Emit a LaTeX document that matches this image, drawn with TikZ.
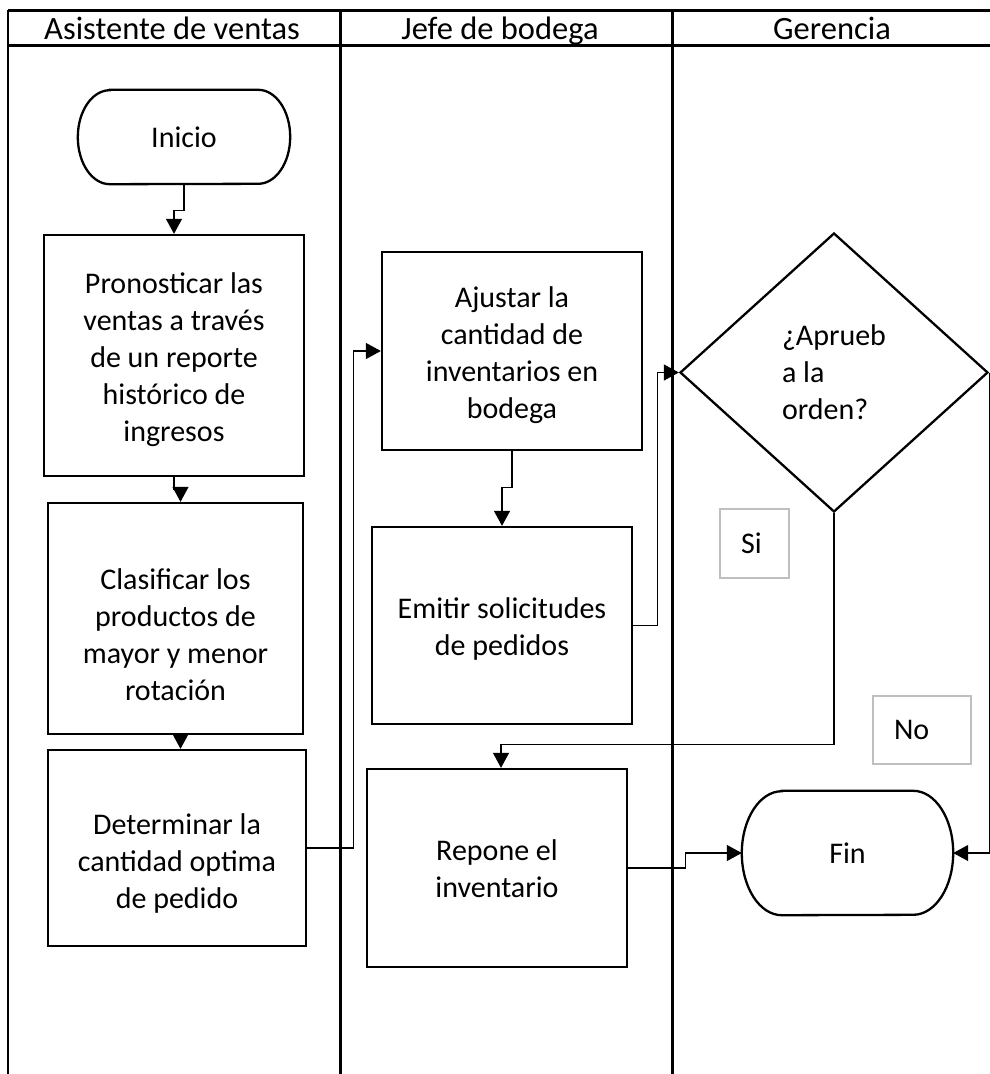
\documentclass[tikz,border=0pt]{standalone}
\usepackage{fontspec}
\setmainfont{Carlito}
\usetikzlibrary{arrows.meta,shapes.geometric,calc}
\newcommand\flowfont{\fontsize{30}{37}\selectfont}
\newcommand\headfont{\fontsize{32.5}{38}\selectfont}
% invisible strut that makes the first text line taller, pushing the block lower
\newcommand\topgap[1]{\rule{0pt}{#1}}
\begin{document}
\begin{tikzpicture}[x=1pt,y=-1pt,
  lane/.style={line width=3pt},
  border/.style={line width=2pt},
  head/.style={font=\headfont, inner sep=0pt, anchor=base},
  stepbox/.style={draw, line width=2.3pt, rectangle, inner sep=0pt, align=center, font=\flowfont},
  terminal/.style={rectangle, inner sep=0pt, font=\flowfont},
  outline/.style={line width=2.3pt},
  decision/.style={draw, diamond, line width=2.3pt, inner sep=0pt, align=left, font=\flowfont,
                   minimum width=308pt, minimum height=279pt},
  conn/.style={line width=1.1pt, -{Triangle[length=15pt,width=16pt]}},
  tag/.style={draw=black!25, line width=2pt, rectangle, inner ysep=0pt, inner xsep=21pt,
              align=left, font=\flowfont}
]
\useasboundingbox (0,0) rectangle (990,1074);

% swimlane frame
\coordinate (tl) at (8,10);
\coordinate (tr) at (990,10);
\coordinate (hl) at (8,45);
\coordinate (hr) at (990,45);
\draw[border] (8,10) -- (8,1074);
\draw[lane] (340,10) -- (340,1074);
\draw[lane] (672,10) -- (672,1074);
\draw[lane] (tl) -- (tr);
\draw[lane] (hl) -- (hr);

\node[head] (h1) at (172,39) {Asistente de ventas};
\node[head] (h2) at (500,39) {Jefe de bodega};
\node[head] (h3) at (832,39) {Gerencia};

% start and end terminals
\node[terminal, minimum width=212pt, minimum height=94pt] (ini) at (184,137) {Inicio};
\draw[outline] ([xshift=32pt]ini.north west) -- ([xshift=-32pt]ini.north east)
  arc[start angle=90,end angle=-90,x radius=32pt,y radius=47pt]
  -- ([xshift=32pt]ini.south west)
  arc[start angle=270,end angle=90,x radius=32pt,y radius=47pt] -- cycle;

\node[terminal, minimum width=211pt, minimum height=124pt] (fin) at (847.5,853) {Fin};
\draw[outline] ([xshift=40pt]fin.north west) -- ([xshift=-40pt]fin.north east)
  arc[start angle=90,end angle=-90,x radius=40pt,y radius=62pt]
  -- ([xshift=40pt]fin.south west)
  arc[start angle=270,end angle=90,x radius=40pt,y radius=62pt] -- cycle;

% process steps
\node[stepbox, minimum width=260pt, minimum height=241pt] (b1) at (174,355.5)
  {\topgap{29pt}Pronosticar las\\ventas a través\\de un reporte\\histórico de\\ingresos};
\node[stepbox, minimum width=255pt, minimum height=231pt] (b2) at (175.5,618.5)
  {\topgap{53pt}Clasificar los\\productos de\\mayor y menor\\rotación};
\node[stepbox, minimum width=258pt, minimum height=196pt] (b3) at (177,848)
  {\topgap{51pt}Determinar la\\cantidad optima\\de pedido};
\node[stepbox, minimum width=260pt, minimum height=198pt] (b4) at (512,351)
  {\topgap{29pt}Ajustar la\\cantidad de\\inventarios en\\bodega};
\node[stepbox, minimum width=260pt, minimum height=197pt] (b5) at (502,625.5)
  {\topgap{27pt}Emitir solicitudes\\de pedidos};
\node[stepbox, minimum width=260pt, minimum height=198pt] (b6) at (497,868)
  {\topgap{23pt}Repone el\\inventario};

% decision
\node[decision] (dec) at (834,372.5) {¿Aprueb\\a la\\orden?};

% branch tags
\node[tag, text width=27pt, minimum height=69pt] (si) at (754.5,543.5) {Si};
\node[tag, text width=56pt, minimum height=68pt] (no) at (922,730) {No};

% connectors
\draw[conn] (ini.south) -- ++(0,26) -| (b1.north);
\draw[conn] (b1.south) -- ++(0,12) -| ([xshift=5pt]b2.north);
\draw[conn] ([xshift=5pt]b2.south) -- ([xshift=5pt]b2.south |- b3.north);
\draw[conn] (b3.east) -- ++(46,0) |- (b4.west);
\draw[conn] (b4.south) -- ++(0,36) -| (b5.north);
\draw[conn] (b5.east) -- ++(24,0) |- (dec.west);
\draw[conn] (dec.south) -- ++(0,231) -| ([xshift=4pt]b6.north);
\draw[conn] (b6.east) -- ++(57,0) |- (fin.west);
\draw[conn] (dec.east) |- (fin.east);
\end{tikzpicture}
\end{document}
